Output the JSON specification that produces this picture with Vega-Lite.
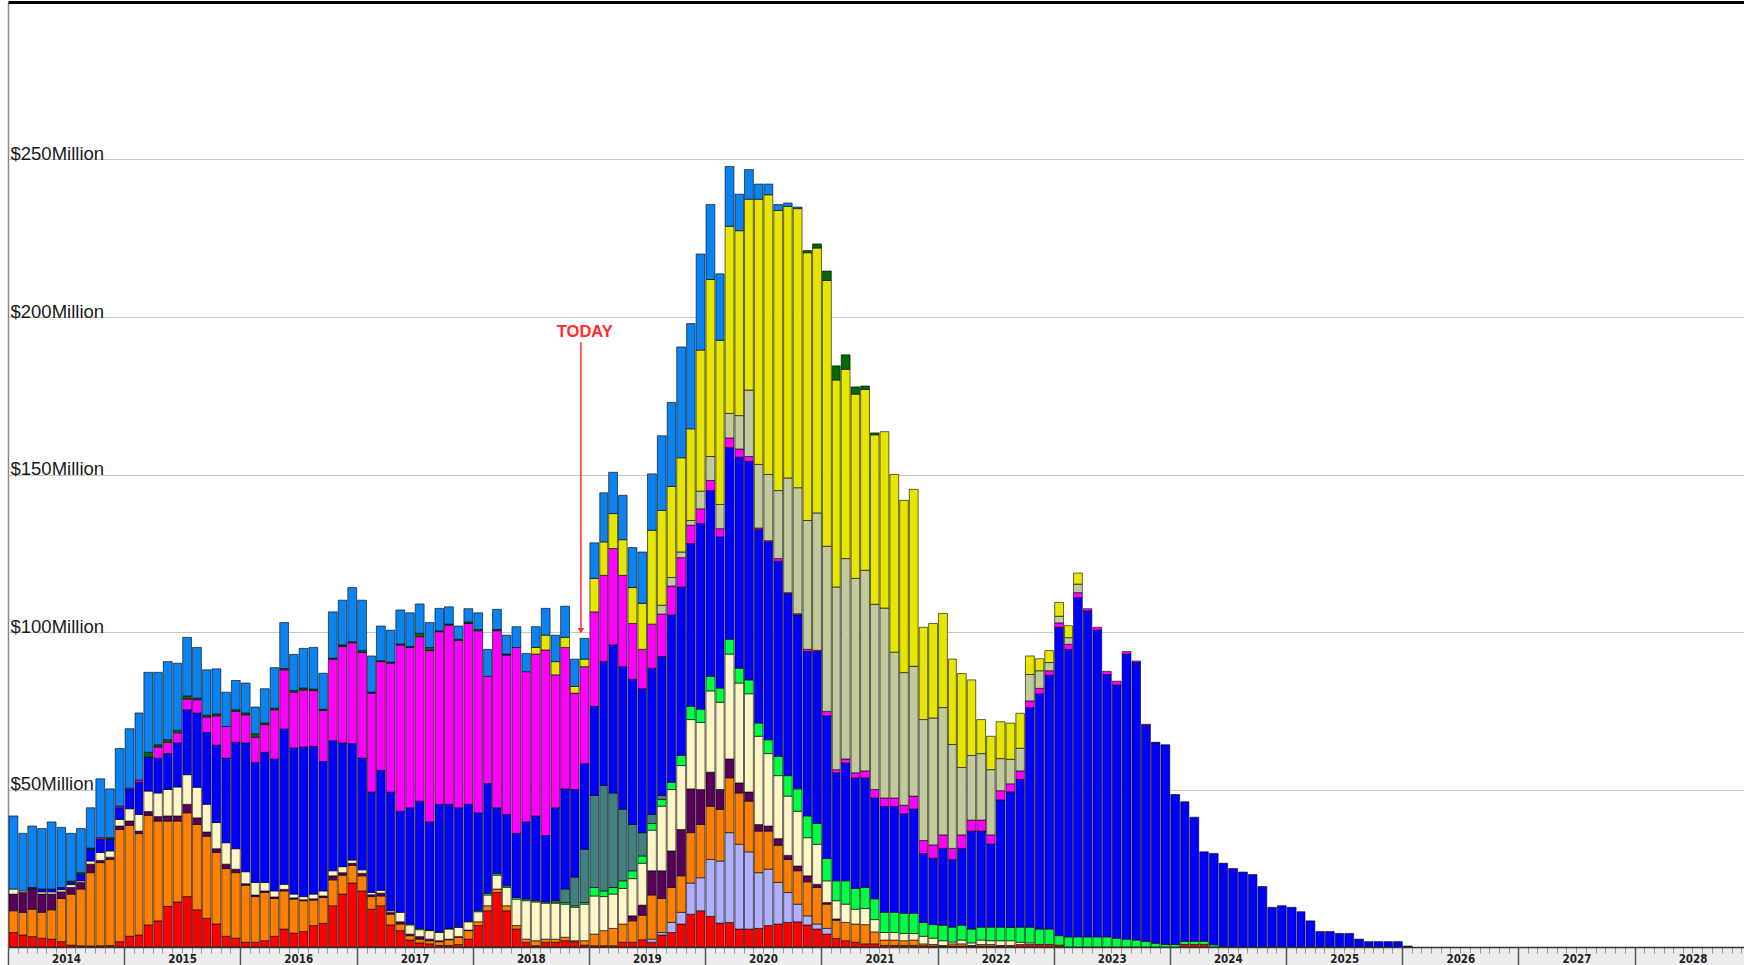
{
  "$schema": "https://vega.github.io/schema/vega-lite/v6.json",
  "autosize": {"type": "none"},
  "padding": {"left": 8, "top": 2, "right": 0, "bottom": 18},
  "width": 1736,
  "height": 945,
  "background": "white",
  "config": {"view": {"stroke": null}},
  "resolve": {"axis": {"x": "independent"}},
  "layer": [
    {
      "data": {"values": [
        {"month":"2014-01-01","s01":4.6,"s03":6.9,"s04":5.3,"s05":1.6,"s13":23.2},
        {"month":"2014-02-01","s01":3.8,"s03":7.2,"s04":6.3,"s05":0.5,"s13":18.3},
        {"month":"2014-03-01","s01":3.3,"s03":8.7,"s04":6.4,"s05":0.2,"s08":0.3,"s13":19.5},
        {"month":"2014-04-01","s01":2.8,"s03":8.2,"s04":5.8,"s05":0.7,"s08":0.9,"s13":19.2},
        {"month":"2014-05-01","s01":2.5,"s03":9.3,"s04":5,"s05":0.7,"s08":0.9,"s13":21.3},
        {"month":"2014-06-01","s01":1.7,"s03":13.7,"s04":2.1,"s05":0.7,"s08":0.7,"s13":19.1},
        {"month":"2014-07-01","s01":0.6,"s03":16.2,"s04":2.1,"s05":0.9,"s08":0.7,"s12":0.4,"s13":15.2},
        {"month":"2014-08-01","s01":0.4,"s03":18,"s04":2.1,"s05":0.5,"s08":2.1,"s12":0.5,"s13":14},
        {"month":"2014-09-01","s01":0.3,"s03":23.3,"s04":2.7,"s05":1,"s08":3.7,"s12":0.4,"s13":12.8},
        {"month":"2014-10-01","s01":0.4,"s03":26.4,"s04":0.7,"s05":2.5,"s08":4.2,"s09":0.5,"s13":18.7},
        {"month":"2014-11-01","s01":0.5,"s03":27.3,"s04":0.7,"s05":2,"s08":3.7,"s12":0.5,"s13":15.5},
        {"month":"2014-12-01","s01":1.7,"s03":35.6,"s04":1.1,"s05":2.1,"s08":3.7,"s09":0.5,"s13":18.3},
        {"month":"2015-01-01","s01":3.4,"s03":35.2,"s04":1.4,"s05":3.9,"s08":6.1,"s09":0.4,"s13":18.9},
        {"month":"2015-02-01","s01":3.8,"s03":32.2,"s04":0.8,"s05":5.3,"s08":10.2,"s09":0.7,"s13":21.3},
        {"month":"2015-03-01","s01":7,"s03":34.8,"s04":1.2,"s05":6.5,"s08":10.8,"s12":1.5,"s13":25.4},
        {"month":"2015-04-01","s01":8.3,"s03":31.7,"s04":1.4,"s05":7.5,"s08":11,"s09":3.6,"s12":0.7,"s13":23},
        {"month":"2015-05-01","s01":12.9,"s03":27.1,"s04":1.6,"s05":8.4,"s08":11.4,"s09":3.6,"s12":0.8,"s13":24.8},
        {"month":"2015-06-01","s01":14.3,"s03":25.7,"s04":1.6,"s05":9.2,"s08":14,"s09":3.2,"s12":0.8,"s13":21.3},
        {"month":"2015-07-01","s01":16,"s03":26.6,"s04":2.7,"s05":9.4,"s08":20.6,"s09":3.4,"s12":1,"s13":18.6},
        {"month":"2015-08-01","s01":11.8,"s03":27.1,"s04":2.1,"s05":9.7,"s08":23.6,"s09":4.2,"s12":0.5,"s13":16.1},
        {"month":"2015-09-01","s01":9.1,"s03":26.1,"s04":1.3,"s05":8.8,"s08":22.8,"s09":4.9,"s12":0.6,"s13":14.4},
        {"month":"2015-10-01","s01":7.3,"s03":22.7,"s04":1.2,"s05":8.3,"s08":24.6,"s09":9.3,"s12":0.6,"s13":14.3},
        {"month":"2015-11-01","s01":3.4,"s03":21.5,"s04":1.4,"s05":6.8,"s08":26.9,"s09":10,"s13":10.9},
        {"month":"2015-12-01","s01":2.8,"s03":20.8,"s04":1.1,"s05":6.5,"s08":33.8,"s09":9.8,"s12":0.5,"s13":9.3},
        {"month":"2016-01-01","s01":1.5,"s03":18.1,"s04":0.5,"s05":3.8,"s08":40.9,"s09":8.9,"s12":0.6,"s13":9.5},
        {"month":"2016-02-01","s01":1.5,"s03":14.5,"s04":0.5,"s05":4,"s08":38.1,"s09":8,"s12":1.1,"s13":8.5},
        {"month":"2016-03-01","s01":2,"s03":15.3,"s04":0.5,"s05":2.7,"s08":41.3,"s09":8.8,"s12":0.5,"s13":10.9},
        {"month":"2016-04-01","s01":3.4,"s03":12,"s04":0.5,"s05":1.9,"s08":41.9,"s09":15.6,"s12":0.5,"s13":12.9},
        {"month":"2016-05-01","s01":5.7,"s03":12.1,"s04":0.5,"s05":1.6,"s08":49.3,"s09":18.8,"s12":0.4,"s13":14.6},
        {"month":"2016-06-01","s01":4.4,"s03":10.8,"s04":0.4,"s05":1.2,"s08":46.4,"s09":17.7,"s12":0.5,"s13":11.5},
        {"month":"2016-07-01","s01":4.9,"s03":9.8,"s04":0.3,"s05":1,"s08":47.5,"s09":18.1,"s12":0.6,"s13":12.6},
        {"month":"2016-08-01","s01":6.8,"s03":8.1,"s04":0.4,"s05":1.5,"s08":46.9,"s09":17.7,"s12":0.5,"s13":13.2},
        {"month":"2016-09-01","s01":7.5,"s03":8.2,"s04":0.5,"s05":1.6,"s08":41.1,"s09":16.2,"s12":0.4,"s13":11.4},
        {"month":"2016-10-01","s01":13.1,"s03":8.2,"s04":1.3,"s05":1.6,"s08":41.3,"s09":25.9,"s12":0.3,"s13":14.7},
        {"month":"2016-11-01","s01":16.8,"s03":6,"s04":0.8,"s05":1.9,"s08":39.3,"s09":30.6,"s12":0.5,"s13":14.2},
        {"month":"2016-12-01","s01":20.3,"s03":5.6,"s04":0.7,"s05":1,"s08":37,"s09":32,"s12":0.3,"s13":17.2},
        {"month":"2017-01-01","s01":17.8,"s03":4.8,"s04":0.8,"s05":1.1,"s08":35.5,"s09":33.5,"s12":0.6,"s13":16},
        {"month":"2017-02-01","s01":12,"s03":4,"s04":0.6,"s05":0.7,"s08":31.9,"s09":31.4,"s12":0.3,"s13":11.5},
        {"month":"2017-03-01","s01":13.1,"s03":3.1,"s04":0.9,"s05":0.9,"s08":38.1,"s09":34.5,"s12":0.3,"s13":11},
        {"month":"2017-04-01","s01":7,"s03":3.4,"s04":0.6,"s05":0.5,"s08":37.7,"s09":40.9,"s12":0.3,"s13":10.2},
        {"month":"2017-05-01","s01":5.2,"s03":2.1,"s04":0.7,"s05":3,"s08":32.1,"s09":52.8,"s12":0.3,"s13":10.8},
        {"month":"2017-06-01","s01":2.2,"s03":1.4,"s04":0.5,"s05":2.9,"s06":0.3,"s08":36.9,"s09":50.9,"s12":0.3,"s13":10.7},
        {"month":"2017-07-01","s01":1.3,"s03":1.2,"s04":0.8,"s05":2.2,"s06":0.4,"s08":40.4,"s09":52.2,"s12":1.1,"s13":9.3},
        {"month":"2017-08-01","s01":1,"s03":1,"s04":0.5,"s05":2.7,"s06":0.2,"s08":34.3,"s09":54.4,"s12":1,"s13":7.9},
        {"month":"2017-09-01","s01":0.5,"s03":1.2,"s04":0.3,"s05":2.6,"s06":0.2,"s08":40.5,"s09":54.8,"s12":0.3,"s13":7.1},
        {"month":"2017-10-01","s01":0.5,"s03":1.8,"s04":0.2,"s05":3.2,"s06":0.2,"s08":39.4,"s09":56.9,"s12":0.3,"s13":5.5},
        {"month":"2017-11-01","s01":0.8,"s03":2.3,"s04":0.2,"s05":2.9,"s06":0.2,"s08":37.8,"s09":53.1,"s12":0.4,"s13":4.2},
        {"month":"2017-12-01","s01":2.5,"s03":2.7,"s04":0.2,"s05":2.6,"s06":0.2,"s08":37.1,"s09":57.4,"s12":0.5,"s13":4.2},
        {"month":"2018-01-01","s01":6.8,"s03":1.2,"s05":3.2,"s06":0.3,"s08":31.1,"s09":57.8,"s12":0.4,"s13":5.3},
        {"month":"2018-02-01","s01":11.5,"s03":1.6,"s05":3.4,"s06":0.5,"s08":34.9,"s09":34,"s13":8.6},
        {"month":"2018-03-01","s01":17.3,"s03":1.1,"s05":4.4,"s06":0.5,"s08":20.9,"s09":56.2,"s12":0.4,"s13":6.4},
        {"month":"2018-04-01","s01":11.5,"s03":1.6,"s05":5.8,"s06":0.5,"s08":22.7,"s09":50.6,"s12":0.3,"s13":6},
        {"month":"2018-05-01","s01":5.7,"s03":1.1,"s05":8.4,"s06":0.5,"s08":20.4,"s09":59,"s13":6.6},
        {"month":"2018-06-01","s01":1.5,"s03":1,"s05":12.2,"s06":0.5,"s08":24.5,"s09":47.7,"s13":5.8},
        {"month":"2018-07-01","s01":0.4,"s03":1.6,"s05":12.3,"s06":0.4,"s08":26.9,"s09":51.4,"s11":2.1,"s13":6.6},
        {"month":"2018-08-01","s01":1.5,"s03":1,"s05":11.4,"s06":0.4,"s08":21.1,"s09":58.9,"s11":4.7,"s13":8.5},
        {"month":"2018-09-01","s01":1.5,"s03":1,"s05":11.4,"s06":0.4,"s07":0.5,"s08":29.4,"s09":42.2,"s11":4.2,"s13":8.4},
        {"month":"2018-10-01","s01":2,"s03":1.1,"s05":10.5,"s06":0.5,"s07":4.3,"s08":31.8,"s09":44.9,"s11":3.2,"s13":9.9},
        {"month":"2018-11-01","s01":1.7,"s03":0.3,"s05":10.6,"s06":0.5,"s07":9.1,"s08":27.8,"s09":30.6,"s11":2.1,"s13":8.7},
        {"month":"2018-12-01","s01":0.6,"s03":1.4,"s05":11.6,"s06":0.5,"s07":16.9,"s08":27.2,"s09":30.8,"s11":2.4,"s13":6.6},
        {"month":"2019-01-01","s01":0.4,"s03":3.7,"s05":12.1,"s06":2.7,"s07":29.2,"s08":28.3,"s09":30,"s11":10.6,"s13":11.3},
        {"month":"2019-02-01","s01":0.4,"s03":4.8,"s05":10.8,"s06":1.8,"s07":33.5,"s08":39.3,"s09":27.4,"s11":10.6,"s13":15.6},
        {"month":"2019-03-01","s01":0.4,"s03":5.5,"s05":10.9,"s06":2.1,"s07":30,"s08":47,"s09":30.6,"s11":11.1,"s13":13.1},
        {"month":"2019-04-01","s01":1.5,"s03":5.8,"s05":11.3,"s06":2.4,"s07":22.7,"s08":45.3,"s09":29,"s11":11.3,"s13":14.1},
        {"month":"2019-05-01","s01":1.5,"s03":6.8,"s04":1.6,"s05":11.8,"s06":2.5,"s07":14.7,"s08":46.1,"s09":17.7,"s11":11.4,"s13":12.7},
        {"month":"2019-06-01","s01":2.3,"s03":7.8,"s04":3.2,"s05":13.3,"s06":2.3,"s07":7.4,"s08":45.7,"s09":12.5,"s11":14.6,"s13":16.3},
        {"month":"2019-07-01","s01":1.5,"s02":1,"s03":14,"s04":7.7,"s05":12.9,"s06":2.1,"s07":2.9,"s08":46.4,"s09":14,"s11":29.8,"s13":17.9},
        {"month":"2019-08-01","s01":3.8,"s02":0.8,"s03":10.8,"s04":8.8,"s05":20.5,"s06":2.1,"s07":1.3,"s08":44.1,"s09":13.5,"s10":2.8,"s11":30.1,"s13":23.7},
        {"month":"2019-09-01","s01":4.6,"s02":3.2,"s03":11.1,"s04":11.6,"s05":19.5,"s06":2.3,"s08":53.1,"s09":9.2,"s10":2.7,"s11":28.9,"s13":26.7},
        {"month":"2019-10-01","s01":7.3,"s02":3.7,"s03":11.6,"s04":14.7,"s05":20.3,"s06":3.2,"s08":53.5,"s09":9.3,"s10":1.8,"s11":29.9,"s13":35.2},
        {"month":"2019-11-01","s01":10.4,"s02":9.9,"s03":16,"s04":13.9,"s05":22,"s06":4.2,"s08":51.7,"s09":5.8,"s10":1.5,"s11":29.1,"s13":33.4},
        {"month":"2019-12-01","s01":11.5,"s02":10.5,"s03":16.9,"s04":11.1,"s05":21.3,"s06":4.2,"s08":58.9,"s09":4.7,"s10":5.6,"s11":44.8,"s13":30.5},
        {"month":"2020-01-01","s01":9.7,"s02":18.1,"s03":16.9,"s04":10.8,"s05":25.8,"s06":4.6,"s08":59,"s09":3.2,"s10":7.6,"s11":56.2,"s13":23.8},
        {"month":"2020-02-01","s01":7.6,"s02":19.7,"s03":16.4,"s04":6.3,"s05":27.7,"s06":4.5,"s08":48,"s09":2.6,"s10":7.7,"s11":52.1,"s13":21.1},
        {"month":"2020-03-01","s01":7.8,"s02":28.5,"s03":17.4,"s04":6,"s05":33.3,"s06":4.7,"s08":60.9,"s09":3,"s10":7.8,"s11":59.4,"s13":19},
        {"month":"2020-04-01","s01":5.7,"s02":26.9,"s03":16.3,"s04":3.2,"s05":31.7,"s06":4.7,"s08":67,"s09":2.6,"s10":10.6,"s11":58.7,"s13":11.6},
        {"month":"2020-05-01","s01":5.7,"s02":24.5,"s03":16.1,"s04":2.9,"s05":31.2,"s06":4.4,"s08":69.4,"s09":1.5,"s10":21.1,"s11":60.6,"s13":9.4},
        {"month":"2020-06-01","s01":5.9,"s02":17.7,"s03":13.2,"s04":2.1,"s05":28,"s06":4.2,"s08":61.4,"s09":0.5,"s10":20.2,"s11":84.2,"s13":4.8},
        {"month":"2020-07-01","s01":6.8,"s02":17.9,"s03":12.1,"s04":1.6,"s05":23,"s06":4.4,"s08":62.8,"s09":0.4,"s10":21,"s11":88.8,"s13":3.4},
        {"month":"2020-08-01","s01":7.3,"s02":13.2,"s03":11.8,"s04":2.1,"s05":20,"s06":6.1,"s08":62,"s09":0.8,"s10":21.6,"s11":88.9,"s13":1.9},
        {"month":"2020-09-01","s01":7.8,"s02":9.5,"s03":10.5,"s04":1.3,"s05":18.8,"s06":6.5,"s08":57.8,"s09":0.3,"s10":36.4,"s11":86.2,"s13":1.1},
        {"month":"2020-10-01","s01":8,"s02":5.6,"s03":10.6,"s04":1.5,"s05":17.4,"s06":7.1,"s08":55.2,"s09":0.4,"s10":40,"s11":88.6,"s13":0.5},
        {"month":"2020-11-01","s01":7,"s02":2.9,"s03":10.8,"s04":1.9,"s05":12.1,"s06":6.9,"s08":52.2,"s09":0.7,"s10":40.9,"s11":85,"s12":0.7},
        {"month":"2020-12-01","s01":5.7,"s02":1.6,"s03":11.6,"s04":1,"s05":12.7,"s06":6.6,"s08":54.6,"s09":0.4,"s10":43.6,"s11":84.1,"s12":1.3},
        {"month":"2021-01-01","s01":4.1,"s02":1.8,"s03":7.7,"s04":0.5,"s05":6.9,"s06":7.1,"s08":45.3,"s09":1.4,"s10":52.4,"s11":84.4,"s12":3},
        {"month":"2021-02-01","s01":2.7,"s03":5.8,"s04":0.4,"s05":5.8,"s06":6.3,"s08":34.3,"s09":1,"s10":58,"s11":65.7,"s12":4.5},
        {"month":"2021-03-01","s01":2,"s03":5.8,"s05":5.8,"s06":7.4,"s08":37.4,"s09":1.3,"s10":63.6,"s11":60.1,"s12":4.6},
        {"month":"2021-04-01","s01":1.5,"s03":5.8,"s05":4.7,"s06":6.6,"s08":35.1,"s09":1.6,"s10":61.7,"s11":58.5,"s12":2.3},
        {"month":"2021-05-01","s01":1,"s03":6.1,"s05":5.1,"s06":6.7,"s08":34.8,"s09":2.2,"s10":63.7,"s11":57.4,"s12":1.1},
        {"month":"2021-06-01","s01":1,"s03":3.8,"s05":3.9,"s06":6.6,"s08":32,"s09":2.7,"s10":58.8,"s11":53.8,"s12":0.6},
        {"month":"2021-07-01","s01":0.5,"s03":1.7,"s05":2.4,"s06":6.4,"s08":33.6,"s09":2.7,"s10":60.3,"s11":56},
        {"month":"2021-08-01","s01":0.5,"s03":1.7,"s05":2.4,"s06":6.4,"s08":33.6,"s09":2.7,"s10":46.3,"s11":56.4},
        {"month":"2021-09-01","s01":0.5,"s03":1.5,"s05":2.3,"s06":6.4,"s08":31.6,"s09":2.7,"s10":42.1,"s11":54.7},
        {"month":"2021-10-01","s01":0.5,"s03":1.7,"s05":2.1,"s06":6.4,"s08":33.1,"s09":4.1,"s10":41.2,"s11":56.2},
        {"month":"2021-11-01","s01":0.4,"s03":0.6,"s05":2.4,"s06":4.4,"s08":21.9,"s09":4.1,"s10":38.4,"s11":29.3},
        {"month":"2021-12-01","s01":0.3,"s03":0.5,"s05":2,"s06":4.3,"s08":21.1,"s09":4.2,"s10":40.3,"s11":30},
        {"month":"2022-01-01","s01":0.3,"s03":0.2,"s05":1.5,"s06":4.9,"s08":24.4,"s09":4.3,"s10":40.4,"s11":29.9},
        {"month":"2022-02-01","s01":0.3,"s03":0.7,"s05":0.6,"s06":4.7,"s08":21.5,"s09":3.5,"s10":33,"s11":27.1},
        {"month":"2022-03-01","s01":0.3,"s03":0.7,"s05":1.2,"s06":4.7,"s08":24.4,"s09":4.3,"s10":21.4,"s11":29.8},
        {"month":"2022-04-01","s01":0.3,"s03":0.2,"s05":0.8,"s06":4.4,"s08":31.1,"s09":3.5,"s10":20.5,"s11":24},
        {"month":"2022-05-01","s01":0.3,"s03":0.5,"s05":1.4,"s06":4.1,"s08":30.5,"s09":3.5,"s10":21.1,"s11":10.8},
        {"month":"2022-06-01","s01":0.3,"s03":0.5,"s05":1.2,"s06":4.3,"s08":26.4,"s09":2.9,"s10":20.7,"s11":10.6},
        {"month":"2022-07-01","s01":0.3,"s03":0.2,"s05":1.5,"s06":4.3,"s08":40.4,"s09":2.9,"s10":10.2,"s11":11.7},
        {"month":"2022-08-01","s01":0.5,"s05":1.5,"s06":4.2,"s08":43.1,"s09":2.5,"s10":7.8,"s11":11.5},
        {"month":"2022-09-01","s01":0.8,"s05":0.7,"s06":4.8,"s08":46.9,"s09":2.7,"s10":7.2,"s11":11.1},
        {"month":"2022-10-01","s01":0.8,"s05":0.5,"s06":5,"s08":69.7,"s09":2.1,"s10":8.4,"s11":5.9},
        {"month":"2022-11-01","s01":0.8,"s06":4.9,"s08":74.7,"s09":1.7,"s10":5.6,"s11":3.8},
        {"month":"2022-12-01","s01":0.8,"s06":4.9,"s08":80.6,"s09":1.4,"s10":2.6,"s11":3.8},
        {"month":"2023-01-01","s01":0.6,"s06":3,"s08":97.9,"s09":1.4,"s10":2.1,"s11":4.4},
        {"month":"2023-02-01","s06":3.2,"s08":91.3,"s09":1.6,"s10":2.1,"s11":3.8},
        {"month":"2023-03-01","s06":3.2,"s08":107.7,"s09":1.6,"s10":2.7,"s11":3.5},
        {"month":"2023-04-01","s06":3.2,"s08":103.5,"s09":0.7},
        {"month":"2023-05-01","s06":3.2,"s08":97.4,"s09":0.9},
        {"month":"2023-06-01","s06":3.2,"s08":83.3,"s09":1},
        {"month":"2023-07-01","s06":2.8,"s08":80.4,"s09":1.2},
        {"month":"2023-08-01","s06":2.5,"s08":90.5,"s09":0.8},
        {"month":"2023-09-01","s06":2.2,"s08":88.1,"s09":0.5},
        {"month":"2023-10-01","s06":1.8,"s08":68.6,"s09":0.3},
        {"month":"2023-11-01","s06":1.2,"s08":63.6,"s09":0.2},
        {"month":"2023-12-01","s06":0.8,"s08":63.4},
        {"month":"2024-01-01","s06":0.8,"s08":47.6},
        {"month":"2024-02-01","s01":0.8,"s06":1,"s08":44.3},
        {"month":"2024-03-01","s01":0.8,"s06":1,"s08":39.4},
        {"month":"2024-04-01","s01":0.8,"s06":1,"s08":28.4},
        {"month":"2024-05-01","s06":0.7,"s08":29},
        {"month":"2024-06-01","s06":0.2,"s08":26.4},
        {"month":"2024-07-01","s08":24.9},
        {"month":"2024-08-01","s08":23.8},
        {"month":"2024-09-01","s08":23},
        {"month":"2024-10-01","s08":19.2},
        {"month":"2024-11-01","s08":12.6},
        {"month":"2024-12-01","s08":13.1},
        {"month":"2025-01-01","s08":12.6},
        {"month":"2025-02-01","s08":11.2},
        {"month":"2025-03-01","s08":8.3},
        {"month":"2025-04-01","s08":4.9},
        {"month":"2025-05-01","s08":4.9},
        {"month":"2025-06-01","s08":4.3},
        {"month":"2025-07-01","s08":4.3},
        {"month":"2025-08-01","s08":2.5},
        {"month":"2025-09-01","s08":1.7},
        {"month":"2025-10-01","s08":1.7},
        {"month":"2025-11-01","s08":1.7},
        {"month":"2025-12-01","s08":1.7},
        {"month":"2026-01-01","s08":0.3}
      ]},
      "transform": [
        {"fold": ["s01","s02","s03","s04","s05","s06","s07","s08","s09","s10","s11","s12","s13"], "as": ["series","value"]},
        {"filter": "isValid(datum.value) && datum.value > 0"}
      ],
      "mark": {"type": "bar", "stroke": "#000000", "strokeWidth": 0.8, "strokeOpacity": 0.75},
      "encoding": {
        "x": {
          "field": "month", "type": "temporal", "timeUnit": "utcyearmonth", "title": null,
          "scale": {"type": "utc", "domain": [1388534400000, 1860019200000]},
          "axis": {"orient": "bottom", "offset": 0, "tickCount": {"interval": "month", "step": 1}, "labels": false, "grid": false, "ticks": true, "tickSize": 6, "tickColor": "#9a9a9a", "tickWidth": 1, "domain": true, "domainColor": "#333333", "domainWidth": 1.5, "zindex": 1}
        },
        "y": {
          "field": "value", "type": "quantitative", "stack": "zero", "title": null,
          "scale": {"domain": [0, 300], "nice": false},
          "axis": {"orient": "left", "values": [50, 100, 150, 200, 250], "labelExpr": "'$' + datum.value + 'Million'", "grid": true, "gridColor": "#c8c8c8", "gridWidth": 1, "ticks": false, "tickSize": 0, "labelAlign": "left", "labelBaseline": "alphabetic", "labelPadding": -2, "labelFont": "Liberation Sans, Arial, sans-serif", "labelFontSize": 18.5, "labelColor": "#1a1a1a", "labelBound": false, "labelOverlap": false, "labelFlush": false, "domain": true, "domainColor": "#8a8a8a", "domainWidth": 1.5}
        },
        "color": {
          "field": "series", "type": "nominal", "legend": null,
          "scale": {
            "domain": ["s01","s02","s03","s04","s05","s06","s07","s08","s09","s10","s11","s12","s13"],
            "range": ["#ff0000","#b0b0ff","#ff8000","#580058","#fff6c8","#00ff44","#408080","#0000ff","#ff00ff","#c2ca9c","#e6e600","#006a00","#0a82f0"]
          }
        },
        "order": {"field": "series", "type": "ordinal", "sort": "ascending"}
      }
    },
    {
      "data": {"values": [{"d": "2018-12-07", "top": 192, "bottom": 101}]},
      "mark": {"type": "rule", "color": "#ff2a2a", "strokeWidth": 1.5},
      "encoding": {
        "x": {"field": "d", "type": "temporal", "timeUnit": "utcyearmonthdate", "title": null,
          "axis": {"orient": "bottom", "offset": 9, "domain": true, "domainColor": "#ededed", "domainWidth": 18, "ticks": false, "labels": false, "grid": false, "zindex": 0}},
        "y": {"field": "top", "type": "quantitative", "title": null},
        "y2": {"field": "bottom"}
      }
    },
    {
      "data": {"values": [{"d": "2018-12-19", "v": 195.3, "label": "TODAY"}]},
      "mark": {"type": "text", "color": "#ff2a2a", "font": "Liberation Sans, Arial, sans-serif", "fontWeight": "bold", "fontSize": 16.5, "align": "center", "baseline": "middle"},
      "encoding": {
        "x": {"field": "d", "type": "temporal", "timeUnit": "utcyearmonthdate", "title": null,
          "axis": {"orient": "bottom", "offset": 0, "tickCount": {"interval": "year", "step": 1}, "ticks": true, "tickSize": 18, "tickColor": "#555555", "tickWidth": 1.5, "labels": true, "labelExpr": "utcFormat(datum.value, '%Y')", "labelOffset": 58, "labelPadding": -6, "labelBaseline": "middle", "labelAlign": "center", "labelFont": "Liberation Sans Narrow, DejaVu Sans Condensed, Liberation Sans, sans-serif", "labelFontWeight": "bold", "labelFontSize": 11.5, "labelColor": "#222222", "labelFlush": false, "labelOverlap": false, "labelBound": false, "domain": false, "grid": false, "zindex": 1}},
        "y": {"field": "v", "type": "quantitative", "title": null},
        "text": {"field": "label"}
      }
    },
    {
      "data": {"values": [{"d": "2018-12-07", "v": 100.4}]},
      "mark": {"type": "point", "shape": "triangle-down", "filled": true, "color": "#ff2a2a", "size": 40, "opacity": 1},
      "encoding": {
        "x": {"field": "d", "type": "temporal", "timeUnit": "utcyearmonthdate", "title": null,
          "axis": {"orient": "top", "domain": true, "domainColor": "#000000", "domainWidth": 3, "ticks": false, "labels": false, "grid": false, "zindex": 1}},
        "y": {"field": "v", "type": "quantitative", "title": null}
      }
    }
  ]
}
